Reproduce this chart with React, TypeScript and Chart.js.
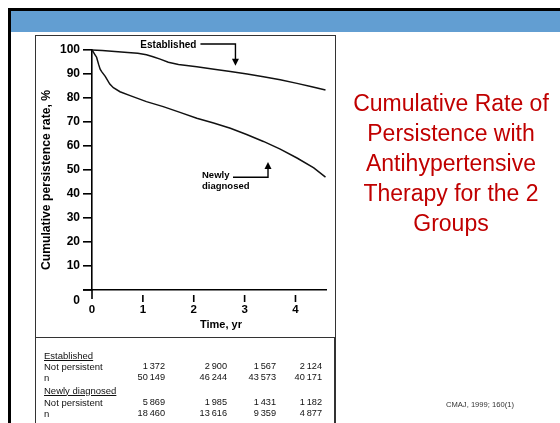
import React, { useEffect, useRef } from 'react';
import { Chart, registerables } from 'chart.js';

Chart.register(...registerables);

// ---- data ----
const yearTicks = [0, 1, 2, 3, 4];
const yTicks = [0, 10, 20, 30, 40, 50, 60, 70, 80, 90, 100];

const establishedTime = [0, 0.2, 0.45, 0.7, 0.9, 1.07, 1.2, 1.34, 1.5, 1.7, 2.06, 2.4, 2.72, 3.05, 3.37, 3.7, 4.03, 4.3, 4.59];
const establishedRate = [100, 99.8, 99.4, 99.0, 98.6, 98.0, 97.2, 96.2, 94.9, 94.0, 93.0, 92.0, 91.0, 90.0, 88.9, 87.6, 86.1, 84.8, 83.3];

const newlyTime = [0, 0.03, 0.06, 0.09, 0.13, 0.16, 0.19, 0.26, 0.35, 0.42, 0.55, 0.75, 1.07, 1.4, 1.73, 2.06, 2.39, 2.72, 3.04, 3.37, 3.7, 4.03, 4.36, 4.59];
const newlyRate = [100, 99, 98, 97, 94, 92, 91, 89, 85.8, 84.3, 82.6, 81.0, 78.5, 76.4, 74.0, 71.6, 69.6, 67.4, 64.8, 61.9, 58.7, 55.0, 50.9, 47.0];

const titleLines = ['Cumulative Rate of', 'Persistence with', 'Antihypertensive', 'Therapy for the 2', 'Groups'];

const establishedNotPersistent = [1372, 2900, 1567, 2124];
const establishedN = [50149, 46244, 43573, 40171];
const newlyNotPersistent = [5869, 1985, 1431, 1182];
const newlyN = [18460, 13616, 9359, 4877];

const citation = 'CMAJ, 1999; 160(1)';

// ---- helpers ----
const fmt = (n: number) => {
  const s = String(n);
  if (s.length <= 3) return s;
  return s.slice(0, s.length - 3) + '\u2009' + s.slice(s.length - 3);
};

const FONT = '"Liberation Sans", Arial, sans-serif';

const decorPlugin = {
  id: 'decor',
  afterDraw(chart: any) {
    const ctx = chart.ctx as CanvasRenderingContext2D;
    const xs = chart.scales.x;
    const ys = chart.scales.y;
    const y0 = ys.getPixelForValue(0);
    const x0 = xs.getPixelForValue(0);
    ctx.save();
    ctx.strokeStyle = '#000';
    ctx.fillStyle = '#000';
    ctx.lineWidth = 1.6;
    ctx.beginPath();
    // axis extensions
    ctx.moveTo(x0 - 9, y0);
    ctx.lineTo(x0, y0);
    ctx.moveTo(x0, y0);
    ctx.lineTo(x0, y0 + 9);
    // detached x tick marks
    yearTicks.filter((t) => t > 0).forEach((t) => {
      const px = xs.getPixelForValue(t);
      ctx.moveTo(px, y0 + 5);
      ctx.lineTo(px, y0 + 12);
    });
    ctx.stroke();

    // y "0" label (offset below axis as in the original)
    ctx.font = `bold 12px ${FONT}`;
    ctx.textAlign = 'right';
    ctx.textBaseline = 'middle';
    ctx.fillText('0', x0 - 12, y0 + 11);

    // axis titles
    ctx.font = `bold 11px ${FONT}`;
    ctx.textAlign = 'center';
    ctx.fillText('Time, yr', x0 + 129, y0 + 35);
    ctx.save();
    ctx.translate(47, y0 - 110);
    ctx.rotate(-Math.PI / 2);
    ctx.font = `bold 12.2px ${FONT}`;
    ctx.fillText('Cumulative persistence rate, %', 0, 0);
    ctx.restore();

    // "Established" annotation
    const eAx = xs.getPixelForValue(2.82);
    const eLineY = ys.getPixelForValue(102.5);
    const eTipY = ys.getPixelForValue(93.4);
    ctx.font = `bold 10px ${FONT}`;
    ctx.textAlign = 'right';
    ctx.fillText('Established', eAx - 39, eLineY + 1);
    ctx.lineWidth = 1.4;
    ctx.beginPath();
    ctx.moveTo(eAx - 35, eLineY);
    ctx.lineTo(eAx, eLineY);
    ctx.lineTo(eAx, eTipY - 6);
    ctx.stroke();
    ctx.beginPath();
    ctx.moveTo(eAx - 3.5, eTipY - 7);
    ctx.lineTo(eAx + 3.5, eTipY - 7);
    ctx.lineTo(eAx, eTipY);
    ctx.closePath();
    ctx.fill();

    // "Newly diagnosed" annotation
    const nAx = xs.getPixelForValue(3.46);
    const nLineY = ys.getPixelForValue(47);
    const nTipY = ys.getPixelForValue(53.3);
    ctx.font = `bold 9.5px ${FONT}`;
    ctx.textAlign = 'left';
    ctx.fillText('Newly', nAx - 66, nLineY - 2);
    ctx.fillText('diagnosed', nAx - 66, nLineY + 9);
    ctx.beginPath();
    ctx.moveTo(nAx - 35, nLineY);
    ctx.lineTo(nAx, nLineY);
    ctx.lineTo(nAx, nTipY + 6);
    ctx.stroke();
    ctx.beginPath();
    ctx.moveTo(nAx - 3.5, nTipY + 7);
    ctx.lineTo(nAx + 3.5, nTipY + 7);
    ctx.lineTo(nAx, nTipY);
    ctx.closePath();
    ctx.fill();
    ctx.restore();
  },
};

function ChartCanvas() {
  const ref = useRef<HTMLCanvasElement | null>(null);
  useEffect(() => {
    if (!ref.current) return;
    const chart = new Chart(ref.current, {
      type: 'line',
      data: {
        datasets: [
          {
            label: 'Established',
            data: establishedTime.map((t, i) => ({ x: t, y: establishedRate[i] })),
            borderColor: '#111',
            borderWidth: 1.5,
            pointRadius: 0,
            tension: 0,
            clip: false as any,
          },
          {
            label: 'Newly diagnosed',
            data: newlyTime.map((t, i) => ({ x: t, y: newlyRate[i] })),
            borderColor: '#111',
            borderWidth: 1.5,
            pointRadius: 0,
            tension: 0,
            clip: false as any,
          },
        ],
      },
      options: {
        responsive: false,
        animation: false,
        layout: { padding: { left: 42, right: 234, top: 50, bottom: 103 } },
        plugins: { legend: { display: false }, tooltip: { enabled: false } },
        scales: {
          x: {
            type: 'linear',
            min: 0,
            max: 4.6,
            afterFit: (s: any) => {
              s.height = 30;
            },
            afterBuildTicks: (s: any) => {
              s.ticks = yearTicks.map((v) => ({ value: v }));
            },
            grid: { display: false, drawTicks: false, tickLength: 0 },
            border: { display: true, color: '#000', width: 1.6 },
            ticks: {
              padding: 13,
              color: '#000',
              autoSkip: false,
              maxRotation: 0,
              font: { family: FONT, size: 11.5, weight: 'bold' },
            },
          },
          y: {
            min: 0,
            max: 100,
            afterFit: (s: any) => {
              s.width = 50;
            },
            afterBuildTicks: (s: any) => {
              s.ticks = yTicks.map((v) => ({ value: v }));
            },
            grid: { drawOnChartArea: false, drawTicks: true, tickLength: 9, color: '#000', lineWidth: 1.6 },
            border: { display: true, color: '#000', width: 1.6 },
            ticks: {
              padding: 3,
              color: '#000',
              font: { family: FONT, size: 12, weight: 'bold' },
              callback: (v: any) => (v === 0 ? '' : String(v)),
            },
          },
        },
      } as any,
      plugins: [decorPlugin],
    });
    return () => chart.destroy();
  }, []);
  return (
    <canvas
      ref={ref}
      width={560}
      height={423}
      style={{ position: 'absolute', left: 0, top: 0, width: 560, height: 423 }}
    />
  );
}

const rowTops = [355, 366, 377, 390, 402, 413];
const colRights = [165, 227, 276, 322];

export default function App() {
  const tableRows: { label: string; underline?: boolean; values?: number[] }[] = [
    { label: 'Established', underline: true },
    { label: 'Not persistent', values: establishedNotPersistent },
    { label: 'n', values: establishedN },
    { label: 'Newly diagnosed', underline: true },
    { label: 'Not persistent', values: newlyNotPersistent },
    { label: 'n', values: newlyN },
  ];
  const tableText: React.CSSProperties = {
    position: 'absolute',
    fontFamily: FONT,
    fontSize: 9.5,
    lineHeight: '11px',
    height: 11,
    color: '#111',
    whiteSpace: 'nowrap',
  };
  return (
    <div
      style={{
        position: 'fixed',
        left: 0,
        top: 0,
        width: 560,
        height: 423,
        background: '#fff',
        overflow: 'hidden',
      }}
    >
      {/* slide frame */}
      <div style={{ position: 'absolute', left: 8, top: 7.5, width: 552, height: 3.5, background: '#000' }} />
      <div style={{ position: 'absolute', left: 8, top: 7.5, width: 3, height: 416, background: '#000' }} />
      <div style={{ position: 'absolute', left: 11, top: 11, width: 549, height: 21, background: '#629ED2' }} />

      {/* figure box */}
      <div
        style={{
          position: 'absolute',
          left: 34.5,
          top: 35,
          width: 301,
          height: 303,
          border: '1.5px solid #333',
          boxSizing: 'border-box',
        }}
      />
      <div style={{ position: 'absolute', left: 34.5, top: 338, width: 1.5, height: 85, background: '#333' }} />
      <div style={{ position: 'absolute', left: 334, top: 338, width: 1.5, height: 85, background: '#333' }} />

      <ChartCanvas />

      {/* table */}
      {tableRows.map((row, ri) => (
        <React.Fragment key={ri}>
          <div
            style={{
              ...tableText,
              left: 44,
              top: rowTops[ri] - 5.5,
              textDecoration: row.underline ? 'underline' : 'none',
            }}
          >
            {row.label}
          </div>
          {row.values &&
            row.values.map((v, ci) => (
              <div
                key={ci}
                style={{
                  ...tableText,
                  fontSize: 9.2,
                  left: colRights[ci] - 60,
                  width: 60,
                  textAlign: 'right',
                  top: rowTops[ri] - 5.5,
                }}
              >
                {fmt(v)}
              </div>
            ))}
        </React.Fragment>
      ))}

      {/* title */}
      <div
        style={{
          position: 'absolute',
          left: 336,
          top: 88,
          width: 230,
          textAlign: 'center',
          fontFamily: FONT,
          fontSize: 23,
          lineHeight: '30px',
          color: '#C00000',
        }}
      >
        {titleLines.map((l, i) => (
          <div key={i} style={{ whiteSpace: 'nowrap' }}>
            {l}
          </div>
        ))}
      </div>

      {/* citation */}
      <div
        style={{
          position: 'absolute',
          left: 446,
          top: 400,
          fontFamily: FONT,
          fontSize: 7.6,
          lineHeight: '10px',
          color: '#333',
          whiteSpace: 'nowrap',
        }}
      >
        {citation}
      </div>
    </div>
  );
}
